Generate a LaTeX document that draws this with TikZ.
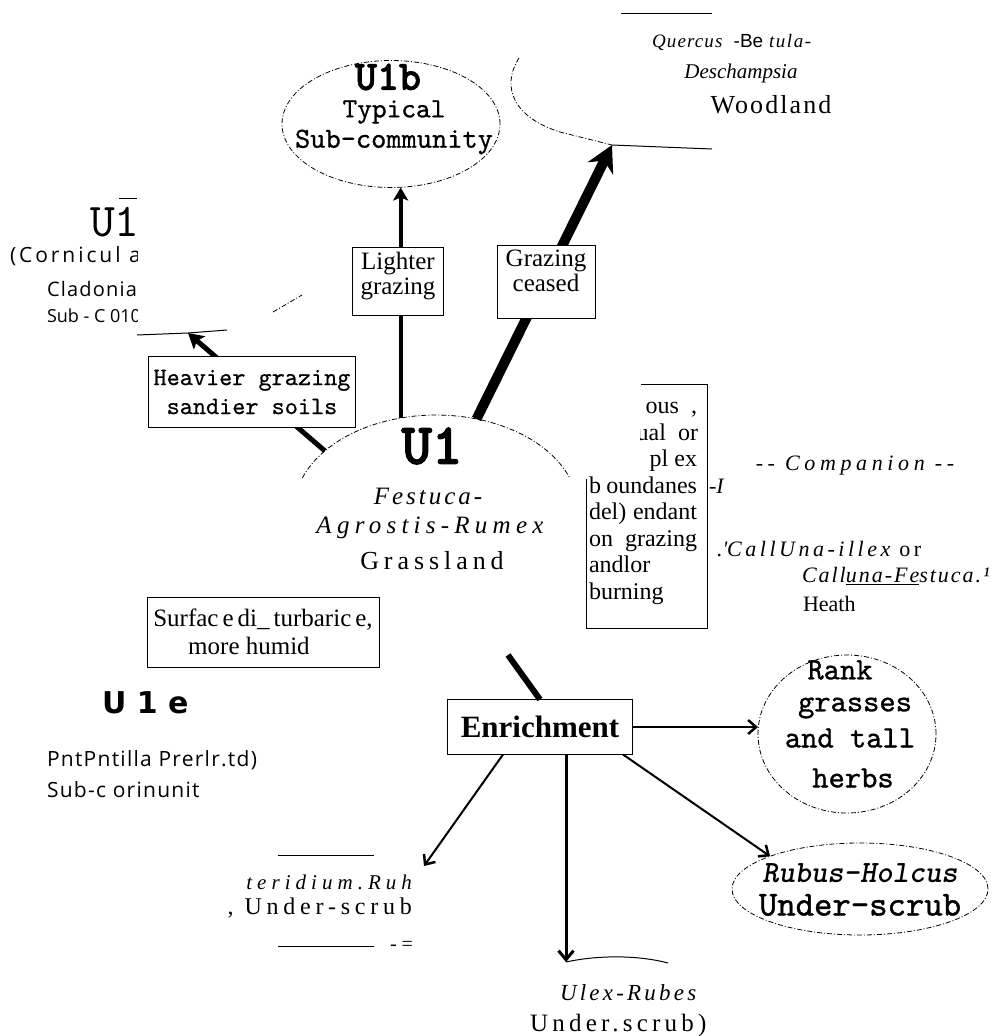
\documentclass[tikz,border=0pt]{standalone}
\usepackage{fontspec}
\setmainfont{Liberation Serif}
\setsansfont{Open Sans}
\setmonofont{lmmono10-regular.otf}[ItalicFont=lmmono10-italic.otf,BoldFont=lmmonolt10-bold.otf,BoldItalicFont=lmmonolt10-boldoblique.otf]
\newfontfamily\arialfam{Liberation Sans}
\newfontfamily\dejafam{DejaVu Sans}
\usetikzlibrary{arrows.meta,shapes.geometric}
\newcommand\fsz[1]{\fontsize{#1}{#1}\selectfont}
\newcommand\lsp[1]{\addfontfeatures{LetterSpace=#1}}
\newcommand\fbold[1]{\addfontfeatures{FakeBold=#1}}
\begin{document}
\begin{tikzpicture}[x=1pt,y=-1pt,
 every node/.style={inner sep=0pt,outer sep=0pt},
 dashell/.style={draw,line width=0.8pt,dash pattern=on 5pt off 2pt on 1pt off 2pt},
 lblbox/.style={draw,line width=1pt,fill=white,align=center,inner xsep=4pt,inner ysep=5pt},
 heavyarr/.style={line width=10pt,-{Stealth[length=26pt,width=28pt]}},
 boldarr/.style={line width=4pt,-{Stealth[length=13pt,width=15pt,inset=3pt]}},
 midarr/.style={line width=5pt,-{Stealth[length=15pt,width=17pt,inset=3pt]}},
 thinarr/.style={line width=2pt,-{Straight Barb[length=8pt,width=14pt,line width=2.5pt]}},
 vertarr/.style={line width=3pt,-{Straight Barb[length=9pt,width=15pt,line width=3pt]}},
 ruleln/.style={line width=1pt}]
\useasboundingbox (0,0) rectangle (992,1036);

% ---------- Woodland (top right)
\draw[ruleln] (621,13) -- (712,13);
\node[anchor=west] (quer) at (652,42) {\fsz{19}\itshape\lsp{6}Quercus {\upshape\arialfam\fsz{19} -Be} {\lsp{8}tula-}};
\node (desch) at (741,73) {\fsz{21}\itshape Deschampsia};
\node (wood) at (771,105) {\fsz{26}\lsp{8}Woodland};
\coordinate (woodtip) at (612,145);
\draw[dashell] (519,58) .. controls (500,88) and (515,118) .. (560,132) -- (woodtip);
\draw[ruleln] (woodtip) -- (712,149);

% ---------- U1b
\node[ellipse,dashell,minimum width=218pt,minimum height=127pt] (u1b) at (391,124) {};
\node (u1bh) at (388,77) {\fsz{42}\ttfamily\bfseries\fbold{1.5}U1b};
\node (u1bt) at (394,112) {\fsz{28}\ttfamily\fbold{0.8}Typical};
\node (u1bs) at (394,142) {\fsz{29}\ttfamily\fbold{0.8}Sub-community};

% ---------- U1
\node[ellipse,minimum width=284pt,minimum height=190pt] (u1) at (436,510) {};
\draw[dashell] plot[domain=199.7:340.3,samples=60,variable=\t] ({436+142*cos(\t)},{510+95*sin(\t)});
\node (u1h) at (432,446) {\fsz{58}\ttfamily\bfseries\fbold{2}U1};
\node (fest) at (428,496) {\fsz{25}\itshape\lsp{12}Festuca-};
\node (agro) at (430,528) {\fsz{25}\itshape\lsp{21}Agrostis-Rumex};
\node (grass) at (432,561) {\fsz{26}\lsp{19}Grassland};

% ---------- left upper (U1c)
\coordinate (u1ctip) at (188,333);
\begin{scope}
\clip (0,180) rectangle (137,330);
\node[anchor=west] (u1ch) at (90,222) {\fsz{47}\ttfamily U1};
\node[anchor=west] (corn) at (10,256) {\fsz{21}\sffamily\lsp{14}(Cornicul a};
\node[anchor=west] (clad) at (47,289) {\fsz{20}\sffamily\lsp{6}Cladonia};
\node[anchor=west] (subc) at (47,316) {\fsz{18}\sffamily Sub - C 010};
\end{scope}
\draw[ruleln] (119,198) -- (137,198);
\draw[ruleln] (137,335) -- (u1ctip) -- (227,330);
\draw[dashell] (273,312) -- (302,295);

% ---------- arrows from U1
\draw[midarr] (u1.152) -- (u1ctip);
\draw[boldarr] (u1.111) -- (u1.111 |- u1b.south);
\draw[heavyarr] (u1.66) -- (woodtip);

% ---------- label boxes
\node[lblbox,anchor=north,minimum width=91pt,text depth=16pt,font=\fsz{25}] (lg) at (398,247) {Lighter\\grazing};
\node[lblbox,anchor=north,minimum width=98pt,text depth=22pt,font=\fsz{25}] (gc) at (546,245) {Grazing\\ceased};
\node[lblbox,minimum width=207pt,minimum height=71pt,font=\fsz{25}\ttfamily\fbold{0.5}] (hg) at (252,392) {Heavier grazing\\[4pt]sandier soils};
\node[lblbox,minimum width=232pt,minimum height=70pt,font=\fsz{25}] (sd) at (263,632) {{\spaceskip=4pt Surfac e di\_ turbaric e,}\\[3pt]more humid\hspace*{28pt}};

% ---------- right box (heath boundaries)
\draw[ruleln] (641,384) -- (707,384) -- (707,628) -- (586,628) -- (586,479);
\begin{scope}
\clip (640,385) rectangle (706,470);
\node[anchor=base east,font=\fsz{24}] (r1) at (697,413) {ous~~,};
\node[anchor=base east,font=\fsz{24}] (r2) at (698,440) {ual~~or};
\node[anchor=base east,font=\fsz{24}] (r3) at (697,466) {pl ex};
\end{scope}
\node[anchor=base west,font=\fsz{24}] (r4) at (589,493) {\makebox[108pt][s]{b oundanes}};
\node[anchor=base west,font=\fsz{24}] (r5) at (589,519) {\makebox[108pt][s]{del) endant}};
\node[anchor=base west,font=\fsz{24}] (r6) at (589,546) {\makebox[108pt][s]{on grazing}};
\node[anchor=base west,font=\fsz{24}] (r7) at (589,572) {andlor};
\node[anchor=base west,font=\fsz{24}] (r8) at (589,599) {burning};
\node[anchor=base west] (ri) at (709,493) {\fsz{22}\itshape -I};

% ---------- heath texts
\node (comp) at (855,466) {\fsz{22}\itshape\lsp{21}-{}- Companion -{}-};
\node[anchor=west] (call1) at (717,549) {\fsz{22}\itshape\lsp{16}.\textquotesingle CallUna-illex {\upshape\lsp{16}or}};
\node[anchor=west] (call2) at (802,576) {\fsz{22}\itshape\lsp{9}Call\underline{una-Fe}stuca.¹};
\node[anchor=west] (heath) at (803,604) {\fsz{22}Heath};

% ---------- left lower (U1e)
\node[anchor=west] (u1e) at (102,703) {\fsz{30}\dejafam\bfseries U 1 e};
\node[anchor=west] (pot) at (47,760) {\fsz{21}\sffamily\lsp{6}PntPntilla Prerlr.td)};
\node[anchor=west] (subo) at (47,790) {\fsz{21}\sffamily\lsp{6}Sub-c orinunit};

% ---------- enrichment
\coordinate (enrin) at (508,655);
\node[draw,line width=1.2pt,fill=white,minimum width=185pt,minimum height=55pt,font=\fsz{31}\bfseries] (enr) at (540,727) {Enrichment};
\draw[line width=6pt] (enrin) -- (enr.north);

\node[ellipse,dashell,minimum width=178pt,minimum height=158pt] (rank) at (847,734) {};
\node (rk1) at (840,670) {\fsz{31}\ttfamily\fbold{1}Rank};
\node (rk2) at (855,708) {\fsz{31}\ttfamily\fbold{1}grasses};
\node (rk3) at (850,738) {\fsz{31}\ttfamily\fbold{1}and tall};
\node (rk4) at (853,778) {\fsz{31}\ttfamily\fbold{1}herbs};

\node[ellipse,dashell,minimum width=256pt,minimum height=92pt] (rubus) at (860,889) {};
\node (rb1) at (860,873) {\fsz{31}\ttfamily\bfseries\itshape Rubus-Holcus};
\node (rb2) at (860,905) {\fsz{35}\ttfamily\fbold{1.2}Under-scrub};

\coordinate (pteritip) at (424,866);
\coordinate (ulextip) at (566,962);
\draw[thinarr] (enr.east) -- (enr.east -| rank.west);
\draw[thinarr] ([xshift=-37pt]enr.south) -- (pteritip);
\draw[thinarr] ([xshift=83pt]enr.south) -- (rubus.160);
\draw[vertarr] ([xshift=26pt]enr.south) -- (ulextip);

% ---------- Pteridium block
\draw[ruleln] (278,855) -- (374,855);
\draw[ruleln] (278,946) -- (374,946);
\node[anchor=east] (pter) at (412,882) {\fsz{21}\itshape\lsp{24}teridium.Ruh};
\node[anchor=east] (pund) at (412,908) {\fsz{24}\lsp{20}, Under-scrub};
\node[anchor=west] (peq) at (390,946) {\fsz{20}- =};

% ---------- Ulex block
\draw[ruleln] (ulextip) .. controls (598,955) and (638,955) .. (668,963);
\node[anchor=west] (ulex) at (560,993) {\fsz{23}\itshape\lsp{14}Ulex-Rubes};
\node[anchor=west] (uund) at (530,1025) {\fsz{25}\lsp{17}Under.scrub)};
\end{tikzpicture}
\end{document}
